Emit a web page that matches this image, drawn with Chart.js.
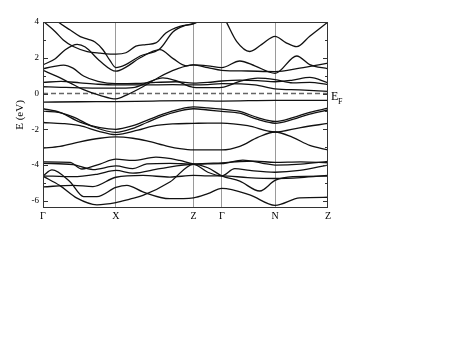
<!DOCTYPE html>
<html>
<head>
<meta charset="utf-8">
<script src="https://cdn.jsdelivr.net/npm/chart.js@4.4.0/dist/chart.umd.min.js"></script>
<style>
  html, body { margin: 0; padding: 0; background: #fff; }
  #wrap { width: 471px; height: 346px; }
</style>
</head>
<body>
<div id="wrap"><canvas id="bands" width="471" height="346"></canvas></div>
<script>
// high-symmetry points along the k-path (path length, arbitrary units)
const kPoints = [0, 73, 150.6, 179, 232.3, 285.3];
const kLabels = ['Γ', 'X', 'Z', 'Γ', 'N', 'Z'];
const energyTicks = [-6, -4, -2, 0, 2, 4];
const fermiLevel = 0;

// bands, [k, E in eV]
const band1 = [[0,4.8],[15.3,4.0],[27.3,3.55],[37.3,3.18],[45.3,3.03],[52,2.88],[60,2.45],[67,1.85],[73,1.45],[82.3,1.6],[97.3,2.1],[117,2.5],[130.3,3.45],[143.3,3.82],[150.6,3.92],[165,4.3],[179,4.5],[184,3.95],[194,2.9],[207,2.35],[219,2.75],[232.3,3.2],[243,2.85],[254,2.62],[267,3.2],[285.3,4.0]];
const band2 = [[0,4.05],[12.3,3.46],[20.3,3.0],[30.3,2.63],[44.3,2.35],[57.3,2.26],[73,2.2],[83,2.28],[93,2.65],[103,2.74],[113,2.83],[123,3.39],[137,3.76],[150.6,3.9],[165,4.3],[179,4.6],[232.3,5.0],[285.3,4.6]];
const band3 = [[0,1.6],[12.3,1.95],[22.3,2.45],[34.3,2.75],[42.3,2.6],[57.3,1.8],[73,1.25],[82.3,1.45],[97.3,2.0],[117,2.45],[130.3,1.95],[143.3,1.55],[150.6,1.6],[165,1.55],[179,1.45],[197,1.82],[212,1.55],[232.3,1.13],[254,2.1],[267,1.62],[285.3,1.38]];
const band4 = [[0,1.3],[14,0.96],[27,0.6],[40.6,0.22],[57,-0.1],[73,-0.3],[84,-0.07],[100,0.38],[117,0.94],[133,1.35],[150.6,1.6],[165,1.45],[179,1.3],[205,1.26],[232.3,1.23],[257,1.42],[285.3,1.7]];
const band5 = [[0,1.39],[10,1.5],[20.6,1.59],[30,1.42],[40.6,0.98],[55,0.68],[73,0.55],[93,0.56],[113,0.62],[133,0.66],[150.6,0.58],[165,0.62],[179,0.7],[197,0.75],[215,0.72],[232.3,0.66],[250,0.75],[267,0.9],[285.3,0.6]];
const band6 = [[0,0.62],[18,0.68],[37,0.6],[55,0.52],[73,0.48],[100,0.48],[130,0.5],[150.6,0.48],[165,0.5],[179,0.55],[212,0.48],[232.3,0.26],[257,0.2],[285.3,0.12]];
const band7 = [[0,0.38],[18,0.35],[37,0.32],[55,0.3],[73,0.3],[90,0.33],[105,0.62],[120,0.88],[133,0.72],[150.6,0.35],[165,0.33],[179,0.35],[197,0.68],[215,0.86],[232.3,0.78],[250,0.6],[267,0.62],[285.3,0.5]];
const band8 = [[0,-0.48],[37,-0.46],[73,-0.45],[110,-0.42],[150.6,-0.4],[179,-0.42],[232.3,-0.38],[285.3,-0.38]];
const band9 = [[0,-0.85],[17,-1.05],[37,-1.6],[57,-1.9],[73,-2.0],[90,-1.8],[104,-1.5],[120,-1.15],[137,-0.87],[150.6,-0.75],[165,-0.8],[179,-0.87],[197,-1.0],[215,-1.35],[232.3,-1.56],[250,-1.35],[267,-1.05],[285.3,-0.82]];
const band10 = [[0,-1.0],[12,-1.02],[30,-1.3],[50,-1.85],[73,-2.17],[90,-1.95],[104,-1.62],[120,-1.25],[137,-0.97],[150.6,-0.85],[165,-0.92],[179,-1.0],[197,-1.1],[215,-1.45],[232.3,-1.66],[250,-1.45],[267,-1.15],[285.3,-0.92]];
const band11 = [[0,-1.62],[20,-1.68],[37,-1.8],[55,-2.1],[73,-2.3],[95,-2.05],[110,-1.82],[130,-1.7],[150.6,-1.67],[165,-1.65],[179,-1.65],[205,-1.8],[232.3,-2.15],[258,-1.9],[285.3,-1.67]];
const band12 = [[0,-3.05],[17,-2.95],[37,-2.7],[57,-2.5],[73,-2.42],[90,-2.5],[104,-2.65],[125,-2.95],[137,-3.08],[150.6,-3.15],[179,-3.15],[197,-2.95],[215,-2.45],[232.3,-2.15],[250,-2.45],[267,-2.9],[285.3,-3.15]];
const band13 = [[0,-3.82],[27,-3.85],[39,-4.22],[57,-3.94],[73,-3.67],[90,-3.74],[113,-3.56],[137,-3.74],[150.6,-3.93],[165,-3.9],[179,-3.88],[197,-3.8],[212,-3.78],[232.3,-3.85],[258,-3.82],[285.3,-3.87]];
const band14 = [[0,-3.9],[30,-3.97],[50,-4.25],[73,-4.05],[90,-4.2],[104,-3.93],[127,-3.9],[150.6,-3.95],[165,-3.93],[179,-3.92],[200,-3.72],[220,-3.9],[232.3,-4.0],[258,-3.95],[285.3,-3.8]];
const band15 = [[0,-4.6],[9,-4.27],[27,-4.93],[40.6,-5.76],[54,-5.76],[73,-5.25],[84,-5.13],[100,-5.5],[127,-5.88],[150.6,-5.83],[165,-5.6],[179,-5.3],[207,-5.67],[232.3,-6.25],[257,-5.83],[285.3,-5.8]];
const band16 = [[0,-4.6],[30,-4.65],[55,-4.5],[73,-4.3],[90,-4.45],[117,-4.2],[150.6,-3.96],[165,-4.4],[179,-4.6],[192,-4.2],[207,-4.3],[232.3,-4.4],[257,-4.3],[285.3,-4.0]];
const band17 = [[0,-4.62],[17,-5.15],[34,-5.85],[54,-6.22],[73,-6.1],[87,-5.9],[100,-5.7],[127,-4.95],[150.6,-3.96],[165,-4.15],[179,-4.6],[197,-4.9],[217,-5.45],[232.3,-4.86],[250,-4.65],[285.3,-4.62]];
const band18 = [[0,-5.22],[30,-5.13],[50,-5.2],[73,-4.68],[100,-4.58],[127,-4.67],[150.6,-4.58],[165,-4.6],[179,-4.6],[205,-4.7],[232.3,-4.75],[258,-4.7],[285.3,-4.58]];

const bands = [band1, band2, band3, band4, band5, band6, band7, band8, band9,
  band10, band11, band12, band13, band14, band15, band16, band17, band18];

const serif = '"Liberation Serif", "Times New Roman", serif';

const datasets = bands.map(b => ({
  data: b.map(p => ({ x: p[0], y: p[1] })),
  borderColor: '#111',
  borderWidth: 1.3,
  cubicInterpolationMode: 'monotone',
  tension: 0.4,
  pointRadius: 0
}));

// dashed Fermi level
datasets.push({
  data: [{ x: kPoints[0], y: fermiLevel }, { x: kPoints[kPoints.length - 1], y: fermiLevel }],
  borderColor: '#666',
  borderWidth: 1.6,
  borderDash: [5, 3],
  pointRadius: 0
});

// frame, inward ticks and the E_F label
const framePlugin = {
  id: 'frame',
  afterDatasetsDraw(chart) {
    const ctx = chart.ctx;
    const a = chart.chartArea;
    const y = chart.scales.y;
    ctx.save();
    ctx.strokeStyle = '#333';
    ctx.lineWidth = 1;
    ctx.strokeRect(a.left + 0.5, a.top + 0.5, a.right - a.left - 1, a.bottom - a.top - 1);
    for (let e = -6; e <= 4; e++) {
      const py = Math.round(y.getPixelForValue(e)) + 0.5;
      const len = e % 2 === 0 ? 5 : 3;
      ctx.beginPath();
      ctx.moveTo(a.left, py); ctx.lineTo(a.left + len, py);
      ctx.moveTo(a.right, py); ctx.lineTo(a.right - len, py);
      ctx.stroke();
    }
    const pf = y.getPixelForValue(fermiLevel);
    ctx.fillStyle = '#000';
    ctx.font = '12px ' + serif;
    ctx.fillText('E', a.right + 3, pf + 6);
    ctx.font = '8px ' + serif;
    ctx.fillText('F', a.right + 10, pf + 10);
    ctx.restore();
  }
};

new Chart(document.getElementById('bands'), {
  type: 'line',
  data: { datasets: datasets },
  plugins: [framePlugin],
  options: {
    responsive: false,
    animation: false,
    layout: { padding: { left: 0, top: 22, right: 143, bottom: 118 } },
    plugins: { legend: { display: false }, tooltip: { enabled: false } },
    scales: {
      x: {
        type: 'linear',
        min: kPoints[0],
        max: kPoints[kPoints.length - 1],
        afterFit: s => { s.height = 20; },
        afterBuildTicks: s => { s.ticks = kPoints.map(v => ({ value: v })); },
        ticks: {
          autoSkip: false,
          maxRotation: 0,
          padding: 2,
          color: '#000',
          font: { family: serif, size: 10 },
          callback: (v, i) => kLabels[i]
        },
        grid: {
          drawTicks: false,
          lineWidth: 1,
          color: c => (c.index === 0 || c.index === kPoints.length - 1) ? 'rgba(0,0,0,0)' : '#9a9a9a'
        },
        border: { display: false }
      },
      y: {
        min: -6.4,
        max: 4,
        afterFit: s => { s.width = 43; },
        afterBuildTicks: s => { s.ticks = energyTicks.map(v => ({ value: v })); },
        ticks: {
          padding: 4,
          color: '#000',
          font: { family: serif, size: 9 }
        },
        grid: { display: false, drawTicks: false },
        border: { display: false },
        title: {
          display: true,
          text: 'E (eV)',
          color: '#000',
          font: { family: serif, size: 11 },
          padding: { top: 14, bottom: 0 }
        }
      }
    }
  }
});
</script>
</body>
</html>
